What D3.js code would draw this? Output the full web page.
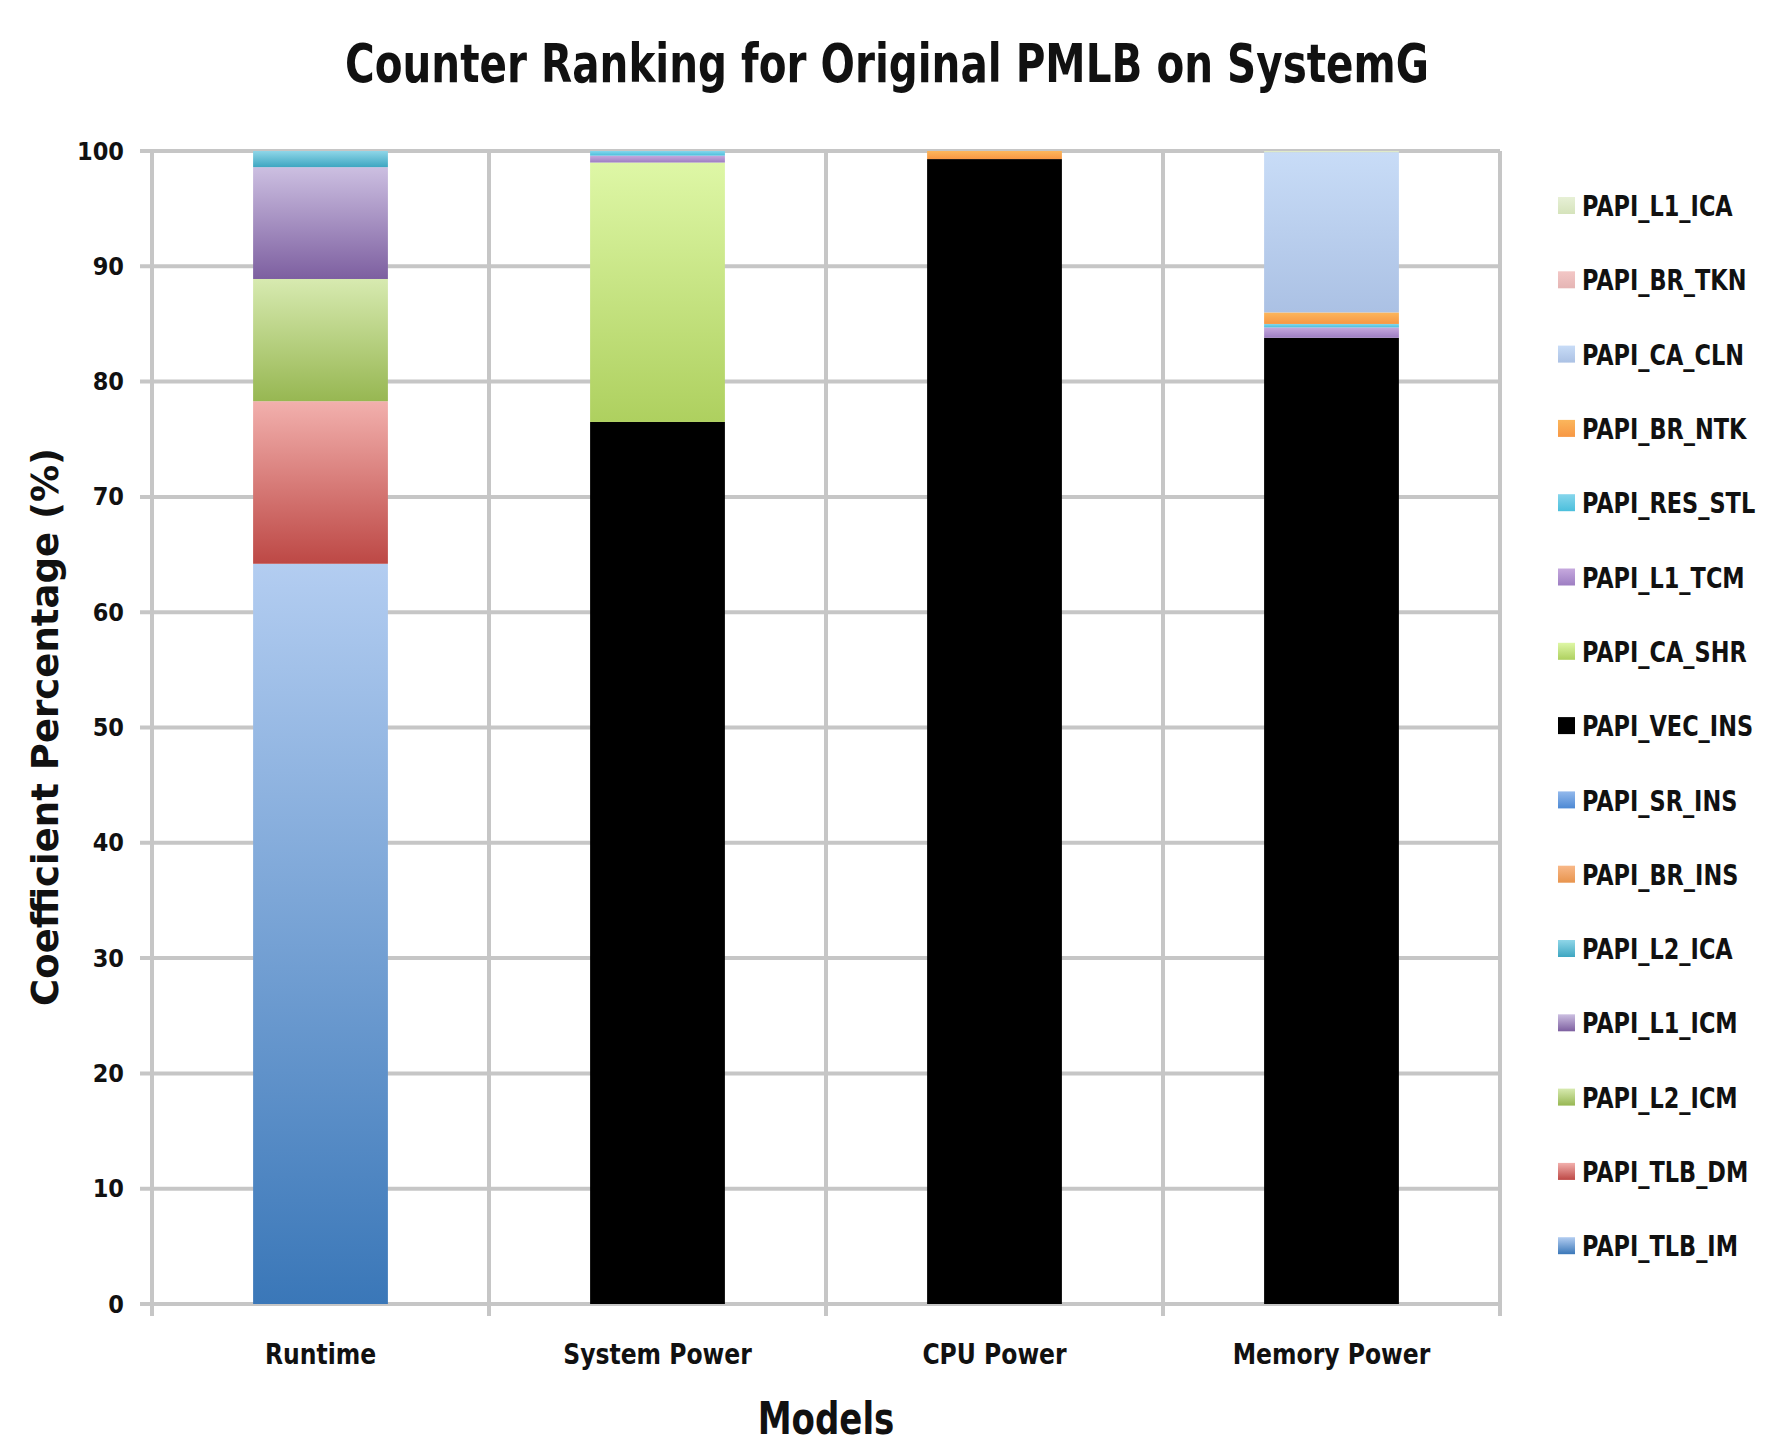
<!DOCTYPE html>
<html>
<head>
<meta charset="UTF-8">
<script src="https://d3js.org/d3.v7.min.js"></script>
<style>
  body { margin: 0; background: #fff; }
  text { font-family: "Liberation Sans Narrow", "DejaVu Sans Condensed", "Liberation Sans", sans-serif; font-weight: bold; fill: #111; }
</style>
</head>
<body>
<svg id="chart" width="1768" height="1446"></svg>
<script>
// models on the x axis
const models = ["Runtime", "System Power", "CPU Power", "Memory Power"];

// counters, stacked from the bottom up (legend shows them reversed)
const counters = ["PAPI_TLB_IM", "PAPI_TLB_DM", "PAPI_L2_ICM", "PAPI_L1_ICM", "PAPI_L2_ICA",
  "PAPI_BR_INS", "PAPI_SR_INS", "PAPI_VEC_INS", "PAPI_CA_SHR", "PAPI_L1_TCM",
  "PAPI_RES_STL", "PAPI_BR_NTK", "PAPI_CA_CLN", "PAPI_BR_TKN", "PAPI_L1_ICA"];

// coefficient percentage per model, one array per counter
const tlbIm  = [64.2, 0, 0, 0];
const tlbDm  = [14.1, 0, 0, 0];
const l2Icm  = [10.6, 0, 0, 0];
const l1Icm  = [9.7, 0, 0, 0];
const l2Ica  = [1.4, 0, 0, 0];
const brIns  = [0, 0, 0, 0];
const srIns  = [0, 0, 0, 0];
const vecIns = [0, 76.5, 99.3, 83.8];
const caShr  = [0, 22.5, 0, 0];
const l1Tcm  = [0, 0.6, 0, 0.9];
const resStl = [0, 0.4, 0, 0.3];
const brNtk  = [0, 0, 0.7, 1.0];
const caCln  = [0, 0, 0, 13.9];
const brTkn  = [0, 0, 0, 0];
const l1Ica  = [0, 0, 0, 0.1];

const yTicks = [0, 10, 20, 30, 40, 50, 60, 70, 80, 90, 100];

// gradient colours [top, bottom]
const colours = {
  PAPI_TLB_IM:  ["#b3cdf1", "#3a77b8"],
  PAPI_TLB_DM:  ["#f2b0ad", "#bd4845"],
  PAPI_L2_ICM:  ["#d7eab0", "#97b752"],
  PAPI_L1_ICM:  ["#ccbfe1", "#7d5fa0"],
  PAPI_L2_ICA:  ["#8fd6e8", "#3ea6c1"],
  PAPI_BR_INS:  ["#f8b888", "#e8944d"],
  PAPI_SR_INS:  ["#93b9ec", "#4d89d4"],
  PAPI_VEC_INS: ["#000000", "#000000"],
  PAPI_CA_SHR:  ["#def7a6", "#aed05f"],
  PAPI_L1_TCM:  ["#c6a9de", "#9d7ec2"],
  PAPI_RES_STL: ["#86d6ec", "#4bbfdc"],
  PAPI_BR_NTK:  ["#fbb65c", "#f79744"],
  PAPI_CA_CLN:  ["#c8dcf7", "#abc1e4"],
  PAPI_BR_TKN:  ["#f3c7c6", "#e5b5b4"],
  PAPI_L1_ICA:  ["#e7f0d6", "#d5e3bb"]
};

const series = [tlbIm, tlbDm, l2Icm, l1Icm, l2Ica, brIns, srIns, vecIns, caShr, l1Tcm, resStl, brNtk, caCln, brTkn, l1Ica];

const table = models.map((m, i) => {
  const row = { model: m };
  counters.forEach((c, j) => { row[c] = series[j][i]; });
  return row;
});

// squeeze text horizontally, the original uses a narrow font
function condense(sel, k) {
  sel.each(function () {
    const w = this.getComputedTextLength();
    d3.select(this).attr("textLength", w * k).attr("lengthAdjust", "spacingAndGlyphs");
  });
}

const svg = d3.select("#chart");
const plotLeft = 152, plotRight = 1500, plotTop = 151, plotBottom = 1304;

const x = d3.scaleBand().domain(models).range([plotLeft, plotRight]).paddingInner(0).paddingOuter(0);
const y = d3.scaleLinear().domain([0, 100]).range([plotBottom, plotTop]);

// gradients
const defs = svg.append("defs");
counters.forEach(c => {
  const g = defs.append("linearGradient").attr("id", "g_" + c)
    .attr("x1", 0).attr("y1", 0).attr("x2", 0).attr("y2", 1);
  g.append("stop").attr("offset", "0%").attr("stop-color", colours[c][0]);
  g.append("stop").attr("offset", "100%").attr("stop-color", colours[c][1]);
});

// title
svg.append("text")
  .attr("x", 887).attr("y", 82)
  .attr("text-anchor", "middle")
  .attr("textLength", 1084).attr("lengthAdjust", "spacingAndGlyphs")
  .style("font-size", "54px")
  .text("Counter Ranking for Original PMLB on SystemG");

// grid
const grid = svg.append("g").attr("stroke", "#c6c6c6").attr("stroke-width", 4);
yTicks.forEach(t => {
  grid.append("line").attr("x1", plotLeft - 12).attr("x2", plotRight).attr("y1", y(t)).attr("y2", y(t));
});
models.forEach(m => {
  const xx = x(m) + x.bandwidth();
  grid.append("line").attr("x1", xx).attr("x2", xx).attr("y1", plotTop).attr("y2", plotBottom + 12);
});
grid.append("line").attr("x1", plotLeft).attr("x2", plotLeft).attr("y1", plotTop).attr("y2", plotBottom + 12);

// bars
const stack = d3.stack().keys(counters)(table);
const barW = x.bandwidth() * 0.4;
svg.append("g").selectAll("g")
  .data(stack).join("g")
  .attr("fill", d => "url(#g_" + d.key + ")")
  .selectAll("rect")
  .data(d => d).join("rect")
  .attr("x", d => x(d.data.model) + (x.bandwidth() - barW) / 2)
  .attr("width", barW)
  .attr("y", d => y(d[1]))
  .attr("height", d => Math.max(0, y(d[0]) - y(d[1])));

// y tick labels
svg.append("g").selectAll("text")
  .data(yTicks).join("text")
  .attr("x", plotLeft - 28).attr("y", d => y(d))
  .attr("text-anchor", "end").attr("dominant-baseline", "central")
  .style("font-size", "25px")
  .text(d => d);

// x tick labels
svg.append("g").selectAll("text")
  .data(models).join("text")
  .attr("x", d => x(d) + x.bandwidth() / 2).attr("y", 1364)
  .attr("text-anchor", "middle")
  .style("font-size", "29px")
  .text(d => d)
  .call(condense, 0.9);

// axis titles
svg.append("text")
  .attr("x", 826).attr("y", 1434)
  .attr("text-anchor", "middle")
  .style("font-size", "44px")
  .text("Models")
  .call(condense, 0.86);

svg.append("text")
  .attr("transform", "translate(58,727) rotate(-90)")
  .attr("text-anchor", "middle")
  .attr("textLength", 558).attr("lengthAdjust", "spacingAndGlyphs")
  .style("font-size", "38px")
  .text("Coefficient Percentage (%)");

// legend, top item is the last stacked series
const legendItems = counters.slice().reverse();
const legend = svg.append("g").selectAll("g")
  .data(legendItems).join("g")
  .attr("transform", (d, i) => `translate(1558, ${206 + i * 74.3})`);
legend.append("rect")
  .attr("x", 0).attr("y", -9).attr("width", 17).attr("height", 17)
  .attr("fill", d => "url(#g_" + d + ")");
legend.append("g")
  .attr("transform", "translate(24,0) scale(0.86,1)")
  .append("text")
  .attr("x", 0).attr("y", 0).attr("dominant-baseline", "central")
  .style("font-size", "29px")
  .text(d => d);
</script>
</body>
</html>
